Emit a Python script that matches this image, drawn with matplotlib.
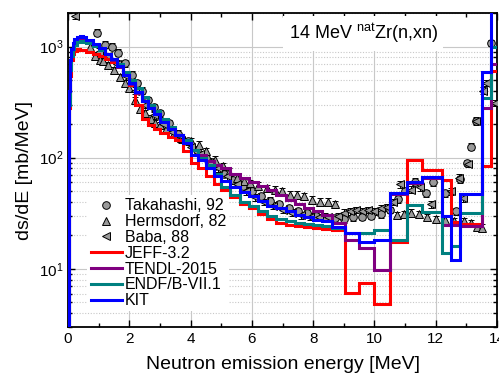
import numpy as np
import matplotlib
matplotlib.use("Agg")
import matplotlib.pyplot as plt
from matplotlib.ticker import LogLocator, MultipleLocator, NullFormatter

plt.rcParams["font.family"] = ["Liberation Sans", "DejaVu Sans"]
plt.rcParams["mathtext.fontset"] = "custom"
plt.rcParams["mathtext.rm"] = "Liberation Sans"
plt.rcParams["mathtext.it"] = "Liberation Sans:italic"

# bin edges shared by the evaluated spectra (MeV)
edges = [0, 0.02, 0.05, 0.1, 0.15, 0.2, 0.3, 0.4, 0.5, 0.6, 0.8,
         1.0, 1.2, 1.4, 1.6, 1.8, 2.0, 2.2, 2.4, 2.6, 2.8,
         3.0, 3.25, 3.5, 3.75, 4.0, 4.25, 4.5, 4.75, 5.0, 5.3,
         5.6, 5.9, 6.2, 6.5, 6.8, 7.1, 7.4, 7.7, 8.0, 8.3,
         8.6, 9.05, 9.5, 10.0, 10.5, 11.05, 11.55, 12.2, 12.5, 12.8,
         13.5, 13.8, 14.0]

jeff = [1, 280, 540, 750, 860, 920, 945, 940, 925, 900,
        865, 825, 780, 730, 670, 590, 450, 300, 225, 195,
        180, 167, 155, 145, 114, 90, 80, 68, 58, 51,
        44, 38, 35, 31, 28, 26, 25, 24.5, 24, 23.5,
        23, 22.4, 6.1, 7.4, 4.8, 17.6, 95, 78, 63, 26.5,
        25.5, 85, 600]

tendl = [1, 350, 700, 900, 1020, 1100, 1150, 1170, 1150, 1100,
         1030, 940, 850, 760, 660, 550, 460, 385, 325, 285,
         250, 215, 185, 160, 140, 118, 105, 93, 86, 80,
         71, 66, 61, 56, 51, 46, 42, 38, 35.5, 33,
         30.6, 26, 18.3, 15.5, 9.7, 47, 59, 66, 25, 25,
         24.5, 280, 700]

endf = [1, 300, 620, 820, 950, 1040, 1090, 1110, 1100, 1070,
        1010, 940, 860, 780, 690, 590, 500, 420, 350, 300,
        265, 225, 190, 160, 145, 118, 100, 86, 72, 55,
        46, 40, 36.5, 33, 30, 28, 26.7, 26, 25.4, 25,
        24.5, 23.5, 21, 21, 22.4, 18.2, 37.7, 32.5, 14, 16.1,
        31.8, 345, 1000]

kit = [1, 400, 750, 950, 1080, 1160, 1220, 1240, 1210, 1150,
       1060, 960, 860, 770, 670, 560, 470, 390, 325, 280,
       245, 210, 180, 160, 136, 105, 95, 80, 68, 62,
       55, 49, 45, 41, 37, 35, 33, 30.6, 29, 27.5,
       26.7, 24, 21, 17.5, 18.2, 48, 60, 67, 29.6, 11.9,
       47.5, 590, 5000]

# measurements
taka_e = [0.94, 1.2, 1.43, 1.64, 1.86, 2.08, 2.25, 2.41, 2.6, 2.8,
          3.0, 3.3, 3.6, 3.9, 4.2, 4.5, 4.8, 5.1, 5.4, 5.7,
          6.0, 6.3, 6.6, 6.9, 7.2, 7.5, 7.8, 8.1, 8.4, 8.7,
          9.0, 9.3, 9.6, 9.9, 10.2, 10.5, 10.77, 11.0, 11.34, 11.67,
          11.9, 12.3, 12.65, 12.78, 13.03, 13.14, 13.3, 13.8]
taka_y = [1330, 1040, 1000, 880, 710, 560, 470, 400, 330, 285,
          250, 205, 165, 140, 118, 100, 85, 72, 63, 56,
          50, 45, 41, 38, 35, 33, 31.5, 30, 29.5, 28.5,
          28, 29, 29.5, 30, 31, 34, 42.5, 50, 61, 48,
          60, 48, 33, 64, 90, 126, 212, 1080]

herm_e = [0.72, 0.88, 1.05, 1.15, 1.3, 1.5, 1.7, 1.85, 2.0, 2.2,
          2.35, 2.5, 2.7, 2.85, 3.0, 3.2, 3.45, 3.7, 4.0, 4.26,
          4.5, 4.8, 5.05, 5.24, 5.5, 5.75, 5.95, 6.2, 6.5, 6.76,
          6.98, 7.25, 7.47, 7.69, 7.96, 8.23, 8.5, 8.72, 10.74, 10.95,
          11.18, 11.45, 11.72, 12.0, 12.3, 12.6, 12.92, 13.14, 13.36, 13.52]
herm_y = [1000, 820, 760, 737, 680, 610, 530, 470, 424, 330,
          275, 250, 225, 205, 195, 180, 167, 150, 140, 131,
          115, 96, 84, 75, 66, 62, 59, 56, 53, 51.5,
          49.7, 46.5, 46.5, 44.8, 42, 40.3, 40.3, 38, 30.6, 31,
          32, 31, 29.3, 28, 27.5, 27, 26.7, 25.7, 24, 23.5]

baba_e = [0.23, 1.0, 1.3, 1.6, 1.9, 2.2, 2.5, 2.8, 3.1, 3.4,
          3.7, 4.0, 4.3, 4.6, 4.9, 5.2, 5.5, 5.8, 6.1, 6.4,
          6.7, 7.0, 7.3, 7.6, 7.9, 8.2, 8.5, 8.8, 9.0, 9.2,
          9.4, 9.6, 9.8, 10.0, 10.2, 10.4, 10.6, 10.85, 11.18, 11.5,
          11.86, 12.5, 12.75, 12.9, 13.05, 13.3, 13.55, 13.65, 13.94]
baba_y = [1900, 900, 820, 700, 540, 400, 300, 240, 200, 170,
          145, 125, 108, 92, 80, 68, 58, 50, 44, 40,
          37, 34, 32, 30.5, 29.5, 29, 29, 30, 32, 33,
          34, 33, 34, 33, 35, 36, 40, 58, 51.5, 54,
          38, 50, 66, 43, 88, 215, 400, 470, 311]

rel_err = 0.07
gray = "#9a9a9a"

fig = plt.figure(figsize=(4.99, 3.76), dpi=100)
ax = fig.add_axes([0.1363, 0.1303, 0.8597, 0.835])

ax.set_yscale("log")
ax.set_xlim(0, 14)
ax.set_ylim(3, 2000)

ax.grid(True, which="major", color="#c8c8c8", lw=0.8, ls="-")
ax.grid(True, which="minor", axis="y", color="#c8c8c8", lw=0.8, ls=(0, (1, 1.5)))
ax.set_axisbelow(True)

exp_sets = [(taka_e, taka_y, "o", "Takahashi, 92"),
            (herm_e, herm_y, "^", "Hermsdorf, 82"),
            (baba_e, baba_y, "<", "Baba, 88")]
exp_handles = []
for e, y, m, lab in exp_sets:
    y = np.array(y)
    ax.errorbar(e, y, yerr=rel_err * y, fmt="none", ecolor="k", elinewidth=0.7,
                capsize=2, capthick=0.7, zorder=3)
    h, = ax.plot(e, y, ls="none", marker=m, ms=5.5, mfc=gray, mec="k", mew=0.7,
                 label=lab, zorder=4)
    exp_handles.append(h)

lib_sets = [(jeff, "#ff0000", "JEFF-3.2"),
            (tendl, "#800080", "TENDL-2015"),
            (endf, "#008080", "ENDF/B-VII.1"),
            (kit, "#0000ff", "KIT")]
lib_handles = []
for vals, col, lab in lib_sets:
    h = ax.stairs(vals, edges, baseline=None, color=col, lw=2.2, label=lab, zorder=5)
    lib_handles.append(h)

ax.xaxis.set_major_locator(MultipleLocator(2))
ax.xaxis.set_minor_locator(MultipleLocator(1))
ax.yaxis.set_major_locator(LogLocator(base=10, numticks=10))
ax.yaxis.set_minor_locator(LogLocator(base=10, subs=np.arange(2, 10), numticks=20))
ax.yaxis.set_minor_formatter(NullFormatter())
ax.tick_params(which="both", direction="in", top=True, right=True, labelsize=11)
ax.tick_params(which="major", length=5, width=1)
ax.tick_params(which="minor", length=3, width=1)
for s in ax.spines.values():
    s.set_linewidth(1.3)

ax.set_xlabel("Neutron emission energy [MeV]", fontsize=14, labelpad=7)
ax.set_ylabel("ds/dE [mb/MeV]", fontsize=14, labelpad=4)

ax.text(0.688, 0.936, "14 MeV $^{\\mathrm{nat}}$Zr(n,xn)", transform=ax.transAxes,
        ha="center", va="center", fontsize=13,
        bbox=dict(facecolor="white", edgecolor="none", pad=4), zorder=6)

leg = ax.legend(handles=exp_handles + lib_handles, loc="upper left",
                bbox_to_anchor=(0.045, 0.42), fontsize=11.5, frameon=True,
                facecolor="white", edgecolor="none", framealpha=1,
                handlelength=2.0, handletextpad=0.15, labelspacing=0.05,
                borderpad=0.2, borderaxespad=0)
leg.set_zorder(7)

fig.savefig("out.png", dpi=100)
